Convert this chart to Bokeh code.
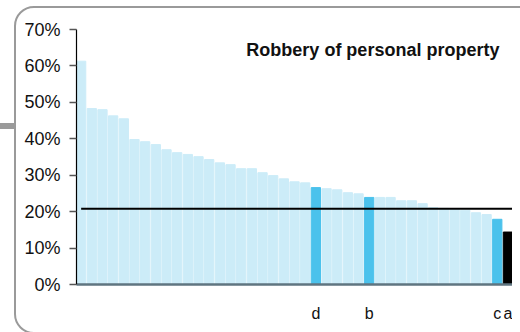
from bokeh.plotting import figure
from bokeh.models import FixedTicker, Label, ColumnDataSource, InlineStyleSheet
from bokeh.embed import file_html
from bokeh.resources import INLINE

# ---- data ----
values = [61.3, 48.3, 48.0, 46.3, 45.5, 39.8, 39.2, 38.4, 37.0, 36.2,
          35.7, 35.1, 34.3, 33.4, 32.9, 31.8, 31.8, 30.7, 29.9, 29.0,
          28.2, 27.9, 26.6, 26.3, 26.0, 25.2, 24.9, 23.9, 23.9, 23.9,
          23.0, 23.0, 22.2, 21.1, 20.9, 20.8, 20.4, 19.7, 19.2, 17.9,
          14.4, 13.7]
labels = [""] * 22 + ["d"] + [""] * 4 + ["b"] + [""] * 11 + ["c", "a", ""]
highlight = [""] * 22 + ["hi"] + [""] * 4 + ["hi"] + [""] * 11 + ["hi", "self", ""]
reference_value = 20.8
y_ticks = [0, 10, 20, 30, 40, 50, 60, 70]
y_tick_labels = ["0%", "10%", "20%", "30%", "40%", "50%", "60%", "70%"]
title_text = "Robbery of personal property"

palette = {"": "#CCECF8", "hi": "#4BC2EC", "self": "#000000"}
xs = list(range(len(values)))
colors = [palette[h] for h in highlight]
src = ColumnDataSource(dict(x=xs, top=values, color=colors))

frame_css = InlineStyleSheet(css="""
:host { position: relative; }
:host::before {
  content: ""; position: absolute; left: 14px; top: 6px;
  width: 560px; height: 328px; box-sizing: border-box;
  border: 2.5px solid #9A9A9A; border-radius: 20px; pointer-events: none;
}
:host::after {
  content: ""; position: absolute; left: 0px; top: 123px;
  width: 15px; height: 6px; background: #9A9A9A; pointer-events: none;
}
""")

BW = 0.87
p = figure(width=512, height=324, output_backend="svg", toolbar_location=None,
           x_range=(-BW / 2, -BW / 2 + 436 / 10.67), y_range=(0, 70),
           min_border_left=76, min_border_right=0, min_border_top=29,
           min_border_bottom=38, stylesheets=[frame_css])
p.outline_line_color = None
p.grid.visible = False
p.background_fill_color = "white"
p.border_fill_color = None

p.vbar(x="x", top="top", width=BW, bottom=0, color="color", source=src)
p.segment(x0=[xs[0]], y0=[reference_value], x1=[xs[-1] + 1], y1=[reference_value],
          line_color="black", line_width=1.8)

# y axis
ya = p.yaxis[0]
ya.ticker = FixedTicker(ticks=y_ticks)
ya.major_label_overrides = {t: l for t, l in zip(y_ticks, y_tick_labels)}
ya.axis_line_color = "black"
ya.axis_line_width = 1.2
ya.major_tick_line_color = "#555555"
ya.major_tick_line_width = 1.5
ya.major_tick_in = 0
ya.major_tick_out = 7
ya.minor_tick_line_color = None
ya.major_label_standoff = 9
ya.major_label_text_font = "Liberation Sans"
ya.major_label_text_font_size = "18px"
ya.major_label_text_color = "#111111"

# x axis
xa = p.xaxis[0]
tick_idx = [i for i, l in enumerate(labels) if l]
xa.ticker = FixedTicker(ticks=tick_idx)
xa.major_label_overrides = {i: labels[i] for i in tick_idx}
xa.axis_line_color = "#5F7580"
xa.axis_line_width = 2.5
xa.major_tick_line_color = None
xa.minor_tick_line_color = None
xa.major_tick_out = 0
xa.major_tick_in = 0
xa.major_label_standoff = 20
xa.major_label_text_font = "Liberation Sans"
xa.major_label_text_font_size = "16px"
xa.major_label_text_color = "#111111"

# title inside plot
p.add_layout(Label(x=39.2, y=64.3, text=title_text, text_align="right",
                   text_baseline="alphabetic", text_font="Liberation Sans",
                   text_font_style="bold", text_font_size="18px",
                   text_color="#111111"))

open("out.html", "w").write(file_html(p, INLINE))
